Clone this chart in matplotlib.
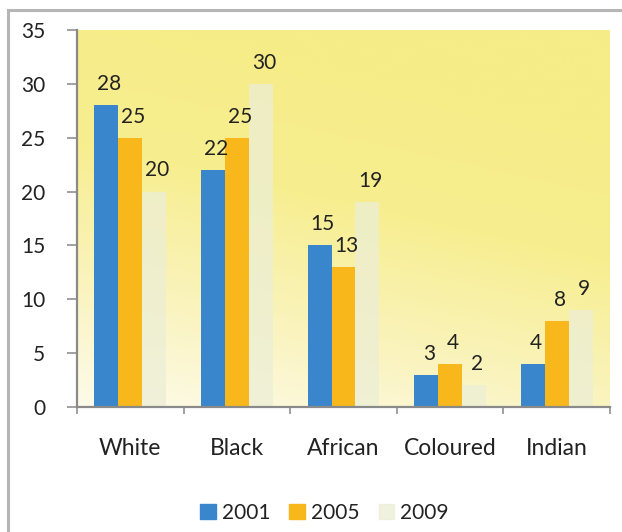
import numpy as np
import matplotlib
matplotlib.use("Agg")
import matplotlib.pyplot as plt
from matplotlib.patches import Rectangle
from matplotlib.colors import LinearSegmentedColormap

categories = ["White", "Black", "African", "Coloured", "Indian"]
years = ["2001", "2005", "2009"]
v2001 = [28, 22, 15, 3, 4]
v2005 = [25, 25, 13, 4, 8]
v2009 = [20, 30, 19, 2, 9]
yticks = [0, 5, 10, 15, 20, 25, 30, 35]

plt.rcParams['font.family'] = ['Lato', 'DejaVu Sans']

W, H = 622, 532
fig = plt.figure(figsize=(W/100, H/100), dpi=100)
fig.patch.set_facecolor('white')

# outer frame
fig.patches.append(Rectangle((8/W, -0.02), 1.0, 1 - 10/H + 0.02, transform=fig.transFigure,
                             fill=False, edgecolor='#b5b5b5', lw=2.2, zorder=0))

ax = fig.add_axes([77/W, 125/H, 533/W, 377/H])
ax.set_xlim(-0.5, 4.5)
ax.set_ylim(0, 35)

# gradient background
ny, nx = 200, 200
yy, xx = np.mgrid[0:1:ny*1j, 0:1:nx*1j]
t = np.clip(0.95*yy + 0.3*xx, 0, 1)
cmap = LinearSegmentedColormap.from_list('bg', ['#fdfbea', '#faf3bb', '#f7ee90', '#f6ec88'])
ax.imshow(t, origin='lower', extent=[0, 1, 0, 1], transform=ax.transAxes,
          cmap=cmap, aspect='auto', zorder=0)

x = np.arange(len(categories))
bw = 0.225
series = [(v2001, '#3a86cd', 1.0), (v2005, '#f8b71a', 1.0), (v2009, '#eceed6', 0.75)]
offs = [-bw, 0, bw]
for (vals, col, a), off, yr in zip(series, offs, years):
    ax.bar(x + off, vals, width=bw, color=col, alpha=a, zorder=2, label=yr)
    for xi, v in zip(x + off, vals):
        ax.annotate(str(v), (xi + 0.03, v), xytext=(0, 8), textcoords='offset points',
                    ha='center', va='bottom', fontsize=15, color='#222222', zorder=3)

for s in ['top', 'right']:
    ax.spines[s].set_visible(False)
for s in ['left', 'bottom']:
    ax.spines[s].set_color('#8a8a8a')
    ax.spines[s].set_linewidth(1.6)

ax.set_yticks(yticks)
ax.set_yticklabels([str(v) for v in yticks])
ax.tick_params(axis='y', length=7, width=1.3, color='#9a9a9a', pad=16,
               labelsize=15, labelcolor='#222222')
ax.set_xticks(np.arange(-0.5, 5, 1.0))
ax.set_xticklabels([])
ax.set_xticks(x, minor=True)
ax.set_xticklabels(categories, minor=True)
ax.tick_params(axis='x', which='major', length=5, width=1.3, color='#9a9a9a')
ax.tick_params(axis='x', which='minor', length=0, pad=22, labelsize=16.5, labelcolor='#222222')

handles = [Rectangle((0, 0), 1, 1, color=c, alpha=a) for _, c, a in series]
fig.legend(handles, years, loc='center', bbox_to_anchor=(0.522, 19/H), ncol=3,
           frameon=False, fontsize=15, handlelength=0.75, handleheight=0.75,
           handletextpad=0.3, columnspacing=0.9, labelcolor='#222222')

fig.savefig('out.png', dpi=100)
